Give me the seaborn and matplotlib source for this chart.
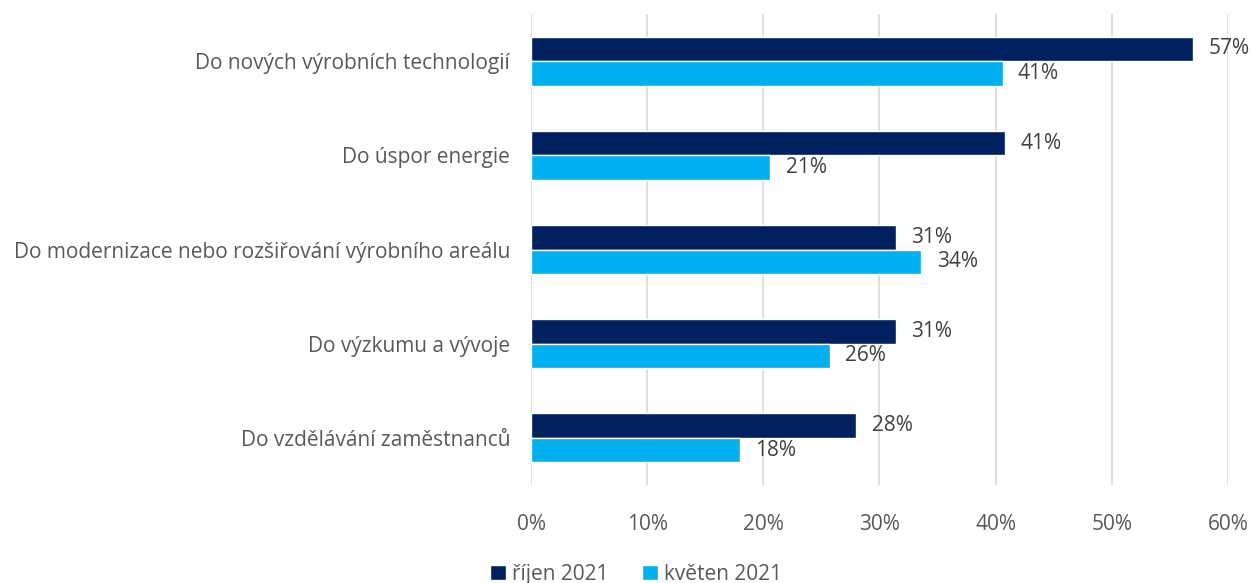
import matplotlib
matplotlib.use("Agg")
import matplotlib.pyplot as plt
import seaborn as sns
import pandas as pd

categories = [
    "Do nových výrobních technologií",
    "Do úspor energie",
    "Do modernizace nebo rozšiřování výrobního areálu",
    "Do výzkumu a vývoje",
    "Do vzdělávání zaměstnanců",
]
series_names = ["říjen 2021", "květen 2021"]
values_oct = [57.0, 40.8, 31.4, 31.4, 28.0]
values_may = [40.6, 20.6, 33.6, 25.7, 18.0]
labels_oct = ["57%", "41%", "31%", "31%", "28%"]
labels_may = ["41%", "21%", "34%", "26%", "18%"]
x_ticks = [0, 10, 20, 30, 40, 50, 60]
x_ticklabels = ["0%", "10%", "20%", "30%", "40%", "50%", "60%"]

colors = ["#002060", "#00B0F0"]
text_color = "#595959"
fs = 15

df = pd.DataFrame({
    "category": categories * 2,
    "series": [series_names[0]] * len(categories) + [series_names[1]] * len(categories),
    "value": values_oct + values_may,
})

sns.set_theme(style="white")
plt.rcParams["font.family"] = ["Open Sans", "DejaVu Sans"]

fig = plt.figure(figsize=(12.53, 5.83), dpi=100)
ax = fig.add_axes([0.4238, 0.168, 0.9800 - 0.4238, 0.976 - 0.168])

sns.barplot(data=df, y="category", x="value", hue="series", hue_order=series_names,
            order=categories, palette=colors, orient="h", width=0.52, ax=ax,
            saturation=1, errorbar=None, legend=True)

ax.set_xlim(0, 60)
ax.set_xticks(x_ticks)
ax.set_xticklabels(x_ticklabels)
ax.grid(axis="x", color="#D9D9D9", linewidth=1.2)
ax.set_axisbelow(True)
for s in ax.spines.values():
    s.set_visible(False)
ax.set_xlabel("")
ax.set_ylabel("")
ax.tick_params(axis="x", colors=text_color, labelsize=fs, length=0, pad=21)
ax.tick_params(axis="y", colors=text_color, labelsize=fs, length=0, pad=15)

for cont, labs in zip(ax.containers, [labels_oct, labels_may]):
    ax.bar_label(cont, labels=labs, padding=11, fontsize=fs, color="#404040")

handles, lbls = ax.get_legend_handles_labels()
ax.get_legend().remove()
fig.legend(handles, lbls, loc="lower center", bbox_to_anchor=(0.5076, -0.035), ncol=2,
           frameon=False, fontsize=fs, handlelength=0.75, handleheight=0.75,
           handletextpad=0.3, columnspacing=1.6, labelcolor=text_color)

fig.savefig("out.png", dpi=100)
